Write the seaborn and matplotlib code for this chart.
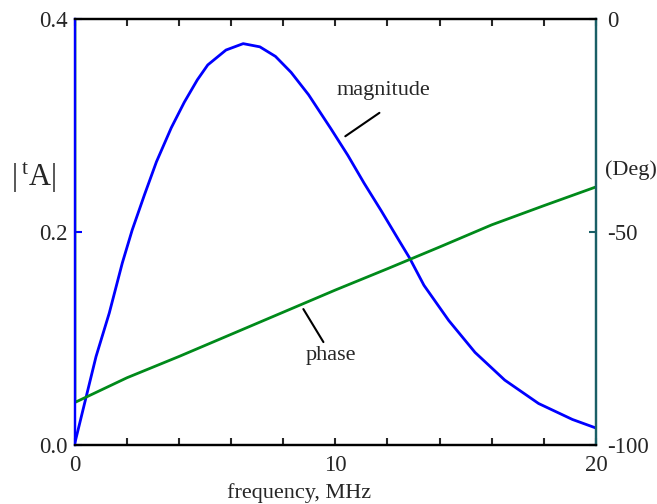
import matplotlib
matplotlib.use("Agg")
import matplotlib.pyplot as plt
import pandas as pd
import seaborn as sns

# magnitude |tA| vs frequency (MHz)
mag_freq = [0, 0.43, 0.81, 1.32, 1.82, 2.2, 2.67, 3.13, 3.7, 4.2, 4.7, 5.1,
            5.8, 6.46, 7.1, 7.7, 8.3, 8.97, 9.83, 10.48, 11.1, 11.76, 12.42,
            12.84, 13.4, 14.35, 15.36, 16.5, 17.8, 19.1, 20]
mag_vals = [0.002, 0.045, 0.083, 0.124, 0.171, 0.202, 0.235, 0.266, 0.298,
            0.322, 0.343, 0.357, 0.371, 0.377, 0.374, 0.365, 0.350, 0.329,
            0.297, 0.272, 0.246, 0.220, 0.193, 0.176, 0.150, 0.117, 0.087,
            0.061, 0.039, 0.024, 0.016]

# phase (deg) vs frequency
phase_freq = [0, 0, 2, 4, 6, 8, 10, 12, 14, 16, 18, 20]
phase_vals = [0, -90, -84.2, -79.2, -74, -68.8, -63.6, -58.6, -53.5, -48.3,
              -43.8, -39.4]

x_ticks = [0, 2, 4, 6, 8, 10, 12, 14, 16, 18, 20]
x_labels = ["0", "", "", "", "", "10", "", "", "", "", "20"]
left_ticks = [0.0, 0.2, 0.4]
left_labels = ["0.0", "0.2", "0.4"]
right_ticks = [-100, -50, 0]
right_labels = ["-100", "-50", "0"]

BLUE = "#0000ff"
GREEN = "#008a1a"
TEAL = "#1a5f66"

sns.set_style("ticks")
plt.rcParams["font.family"] = ["Liberation Serif", "DejaVu Serif"]
plt.rcParams["mathtext.fontset"] = "custom"
plt.rcParams["mathtext.rm"] = "Liberation Serif"
plt.rcParams["mathtext.it"] = "Liberation Serif"

mag_df = pd.DataFrame({"freq": mag_freq, "mag": mag_vals})
phase_df = pd.DataFrame({"freq": phase_freq, "phase": phase_vals})

fig = plt.figure(figsize=(6.57, 5.04), dpi=100)
ax = fig.add_axes([0.114, 0.117, 0.793, 0.845])
ax2 = ax.twinx()

sns.lineplot(data=mag_df, x="freq", y="mag", ax=ax, color=BLUE, lw=2,
             sort=False, estimator=None)
sns.lineplot(data=phase_df, x="freq", y="phase", ax=ax2, color=GREEN, lw=2,
             sort=False, estimator=None)

ax.set_xlim(0, 20)
ax.set_ylim(0, 0.4)
ax2.set_ylim(-100, 0)

ax.set_xticks(x_ticks)
ax.set_xticklabels(x_labels)
ax.set_yticks(left_ticks)
ax.set_yticklabels(left_labels)
ax2.set_yticks(right_ticks)
ax2.set_yticklabels(right_labels)

TICK_FS = 16.5
ax.tick_params(axis="x", direction="in", length=5, width=1.5,
               labelsize=TICK_FS, pad=7, top=True)
ax.tick_params(axis="y", direction="in", length=5, width=1.5,
               labelsize=TICK_FS, pad=5, color=BLUE)
ax2.tick_params(axis="y", direction="in", length=5, width=1.5,
                labelsize=TICK_FS, pad=8, color=TEAL)

for a in (ax, ax2):
    for side in ("top", "bottom"):
        a.spines[side].set_linewidth(1.6)
        a.spines[side].set_color("black")
    a.spines["left"].set_color(BLUE)
    a.spines["left"].set_linewidth(1.6)
    a.spines["right"].set_color(TEAL)
    a.spines["right"].set_linewidth(1.6)

ax.set_xlabel("")
ax.set_ylabel("")
ax2.set_ylabel("")

TXT_FS = 16
fig.text(0.455, 0.012, "frequency, MHz", ha="center", va="baseline",
         fontsize=TXT_FS)
fig.text(0.051, 0.647, r"$|\,^{\mathrm{t}}\mathrm{A}|$",
         ha="center", va="center", fontsize=22)
fig.text(0.921, 0.663, "(Deg)", ha="left", va="center", fontsize=TXT_FS)

# callout labels
ax.text(11.84, 0.333, "magnitude", ha="center", va="center", fontsize=TXT_FS)
ax.plot([10.38, 11.69], [0.290, 0.312], color="black", lw=1.5)
ax.text(9.83, 0.0845, "phase", ha="center", va="center", fontsize=TXT_FS)
ax.plot([8.77, 9.54], [0.1277, 0.0967], color="black", lw=1.5)

fig.savefig("out.png", dpi=100)
plt.close(fig)
